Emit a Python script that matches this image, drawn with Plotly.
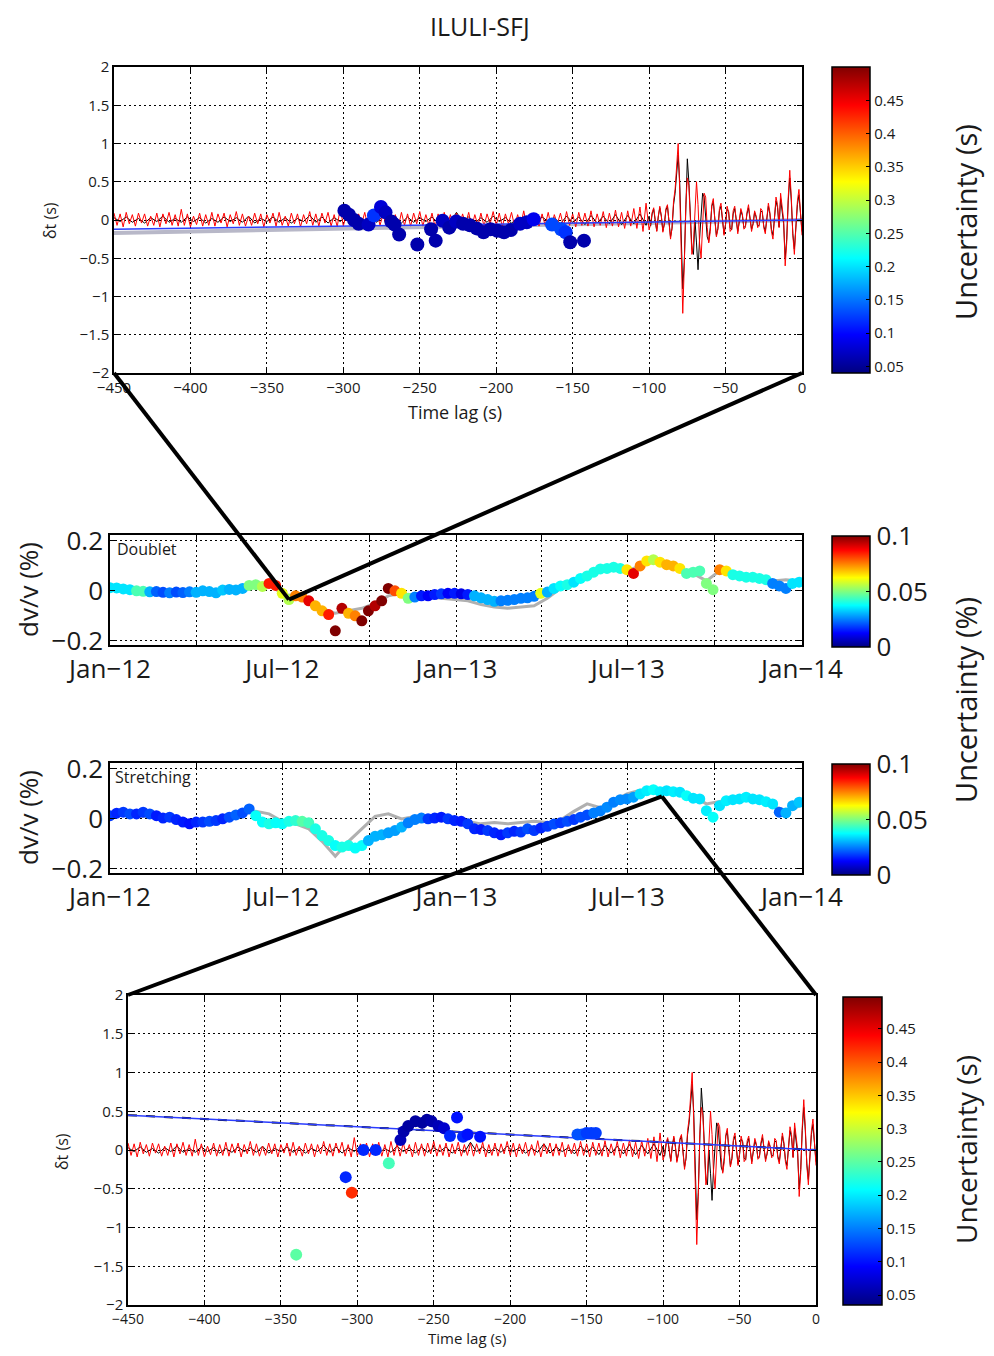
import numpy as np
import pandas as pd
import plotly.graph_objects as go

# page body adds an 8px margin: the figure is sized so it fits the window
OFF = 8
W, H = 994 - 2 * OFF, 1356 - 2 * OFF

# ---------------- DATA ----------------
# correlogram (current = red), lag times
red_t = list(range(-450, -99, 2)) + list(range(-99, 1, 1))
red_v = [
    0.09,-0.07,0.08,-0.09,0.10,-0.05,0.07,-0.08,0.09,-0.04,
    0.08,-0.08,0.05,-0.07,0.09,-0.09,0.08,-0.05,0.10,-0.07,
    0.07,-0.08,0.14,-0.07,0.08,-0.09,0.05,-0.06,0.09,-0.08,
    0.07,-0.07,0.10,-0.08,0.08,-0.04,0.09,-0.09,0.07,-0.05,
    0.11,-0.07,0.08,-0.08,0.05,-0.07,0.09,-0.05,0.08,-0.09,
    0.07,-0.04,0.09,-0.08,0.10,-0.07,0.05,-0.08,0.09,-0.05,
    0.08,-0.09,0.07,-0.05,0.11,-0.07,0.08,-0.08,0.09,-0.04,
    0.10,-0.08,0.07,-0.09,0.16,-0.08,0.08,-0.05,0.09,-0.09,
    0.08,-0.05,0.10,-0.08,0.07,-0.09,0.11,-0.07,0.08,-0.08,
    0.09,-0.05,0.07,-0.09,0.10,-0.07,0.08,-0.08,0.09,-0.05,
    0.11,-0.08,0.07,-0.07,0.09,-0.09,0.08,-0.05,0.10,-0.08,
    0.07,-0.07,0.09,-0.08,0.08,-0.05,0.10,-0.09,0.07,-0.07,
    0.09,-0.08,0.08,-0.05,0.11,-0.07,0.09,-0.09,0.08,-0.05,
    0.10,-0.08,0.07,-0.07,0.12,-0.09,0.08,-0.05,0.09,-0.08,
    0.08,-0.07,0.10,-0.09,0.07,-0.05,0.09,-0.08,0.11,-0.07,
    0.08,-0.09,0.10,-0.07,0.09,-0.08,0.12,-0.09,0.08,-0.07,
    0.11,-0.10,0.09,-0.08,0.13,-0.09,0.10,-0.11,0.12,-0.08,
    0.15,-0.11,0.17,-0.15,0.22,-0.13,
    -0.05,0.10,0.16,-0.02,-0.15,0.05,0.18,0.05,-0.16,-0.05,
    0.15,0.20,-0.05,-0.25,-0.10,0.25,0.40,0.70,1.00,0.40,
    -0.60,-1.22,-0.60,0.20,0.55,0.45,0.00,-0.45,-0.30,0.20,
    0.50,0.20,-0.30,-0.50,-0.10,0.35,0.30,-0.10,-0.30,-0.15,
    0.20,0.28,0.00,-0.22,-0.12,0.15,0.22,-0.05,-0.20,-0.05,
    0.18,0.10,-0.15,-0.12,0.12,0.18,-0.05,-0.18,0.00,0.15,
    0.08,-0.12,-0.10,0.10,0.20,0.00,-0.15,-0.05,0.12,0.05,
    -0.10,-0.08,0.15,0.12,-0.10,-0.18,0.05,0.22,0.10,-0.15,
    -0.25,0.05,0.30,0.20,-0.10,0.35,0.15,0.00,-0.60,-0.30,
    0.30,0.65,0.30,-0.20,-0.45,-0.10,0.25,0.40,0.10,-0.20,
]
# reference correlogram (black)
blk_t = list(range(-450, -101, 4)) + list(range(-100, 1, 1))
blk_v = [
    0.03,-0.02,0.04,-0.03,0.02,-0.04,0.03,-0.02,0.05,-0.03,
    0.02,-0.03,0.04,-0.02,0.03,-0.04,0.02,-0.03,0.04,-0.02,
    0.03,-0.03,0.05,-0.04,0.02,-0.02,0.04,-0.03,0.03,-0.04,
    0.02,-0.02,0.06,-0.03,0.04,-0.04,0.03,-0.02,0.05,-0.03,
    0.04,-0.04,0.02,-0.03,0.05,-0.02,0.03,-0.04,0.04,-0.03,
    0.03,-0.02,0.04,-0.04,0.02,-0.03,0.10,-0.02,0.04,-0.04,
    0.03,-0.03,0.05,-0.02,0.03,-0.04,0.02,-0.03,0.08,-0.04,
    0.04,-0.02,0.03,-0.05,0.05,-0.03,0.04,-0.06,0.06,-0.04,
    0.05,-0.05,0.07,-0.06,0.06,-0.05,0.08,-0.07,
    0.05,-0.08,0.08,0.14,-0.01,-0.14,0.04,0.16,0.05,-0.14,-0.05,
    0.13,0.18,-0.03,-0.22,-0.11,0.20,0.35,0.60,0.85,0.50,
    -0.40,-0.90,-0.55,0.30,0.80,0.50,0.02,-0.38,-0.45,0.00,
    -0.30,-0.65,-0.25,0.10,0.35,0.30,0.05,-0.22,-0.28,-0.10,
    0.18,0.24,0.01,-0.20,-0.11,0.12,0.18,-0.04,-0.18,-0.06,
    0.14,0.11,-0.10,-0.13,0.08,0.15,-0.03,-0.15,-0.02,0.12,
    0.06,-0.10,-0.08,0.08,0.16,0.01,-0.12,-0.05,0.10,0.04,
    -0.08,-0.06,0.12,0.10,-0.08,-0.15,0.04,0.18,0.08,-0.12,
    -0.20,0.04,0.25,0.16,-0.09,0.28,0.12,-0.05,-0.50,-0.25,
    0.25,0.55,0.25,-0.18,-0.38,-0.08,0.20,0.33,0.08,-0.15,
]

# top panel: delay measurements
top_t = [-299.3,-296.3,-293,-290,-283.5,-280,-275.4,-272.4,-268.6,-266.5,-263.5,-251.6,
         -242.6,-239.6,-235.1,-230.7,-226.2,-221.7,-217.2,-212.8,-208.3,-203.8,-199.3,
         -194.9,-190.4,-184.4,-180,-175.5,-163.5,-157.5,-154.6,-151.6,-142.6]
top_dt = [0.12,0.07,0.0,-0.05,-0.06,0.06,0.17,0.10,-0.02,-0.06,-0.19,-0.32,
          -0.12,-0.27,-0.01,-0.10,-0.02,-0.05,-0.07,-0.11,-0.16,-0.12,-0.14,
          -0.16,-0.13,-0.05,-0.03,0.01,-0.06,-0.12,-0.16,-0.29,-0.27]
top_unc = [0.06,0.06,0.06,0.06,0.07,0.12,0.08,0.07,0.06,0.06,0.06,0.06,
           0.06,0.06,0.07,0.06,0.07,0.06,0.06,0.06,0.06,0.06,0.06,
           0.06,0.06,0.07,0.07,0.09,0.13,0.13,0.12,0.06,0.06]
fit_t = [-450, 0]
top_fit = [-0.12, 0.0]
top_fit_err = [-0.17, 0.0]

# bottom panel: delay measurements
bot_t = [-340,-307.6,-303.6,-296,-288,-279.4,-271.8,-269.7,-266.7,-262,-257.6,-254.5,
         -251.5,-247,-243.3,-239.4,-234.8,-230.9,-227.9,-219.7,-156,-153,-150,-147,-144]
bot_dt = [-1.35,-0.35,-0.55,0.0,0.0,-0.17,0.13,0.24,0.31,0.37,0.35,0.39,
          0.37,0.31,0.28,0.18,0.42,0.17,0.2,0.17,0.2,0.2,0.22,0.22,0.22]
bot_unc = [0.25,0.11,0.42,0.11,0.11,0.24,0.06,0.055,0.05,0.05,0.05,0.05,
           0.055,0.06,0.07,0.11,0.10,0.11,0.10,0.10,0.13,0.13,0.12,0.12,0.12]
bot_fit = [0.45, 0.0]

# dv/v time series (weekly)
dates = pd.date_range("2012-01-01", periods=105, freq="7D")
dates_gray = pd.date_range("2012-01-01", periods=53, freq="14D")
dbl_dvv = [
    0.013,0.012,0.008,0.005,0.0,-0.002,-0.004,-0.003,-0.006,-0.008,
    -0.005,-0.007,-0.004,-0.006,0.0,-0.003,-0.008,0.003,0.006,0.004,
    0.010,0.022,0.025,0.018,0.030,0.022,-0.010,-0.035,-0.020,-0.025,
    -0.040,-0.060,-0.080,-0.095,-0.160,-0.070,-0.090,-0.100,-0.120,-0.080,
    -0.060,-0.040,0.010,0.000,-0.010,-0.030,-0.025,-0.020,-0.020,-0.015,
    -0.012,-0.010,-0.010,-0.012,-0.015,-0.020,-0.028,-0.035,-0.042,-0.040,
    -0.038,-0.035,-0.030,-0.028,-0.022,-0.010,-0.005,0.010,0.020,0.025,
    0.035,0.050,0.060,0.075,0.088,0.090,0.095,0.090,0.085,0.070,
    0.100,0.120,0.125,0.115,0.105,0.100,0.090,0.070,0.075,0.080,
    0.030,0.005,0.085,0.080,0.065,0.060,0.055,0.055,0.050,0.045,
    0.030,0.020,0.010,0.030,0.035,
]
dbl_unc = [
    0.035,0.035,0.035,0.035,0.045,0.045,0.030,0.022,0.020,0.025,
    0.020,0.022,0.025,0.030,0.030,0.030,0.030,0.032,0.030,0.030,
    0.030,0.050,0.050,0.055,0.085,0.085,0.060,0.055,0.075,0.075,
    0.090,0.070,0.070,0.085,0.100,0.095,0.070,0.075,0.100,0.100,
    0.095,0.100,0.100,0.080,0.065,0.050,0.025,0.015,0.012,0.015,
    0.018,0.012,0.015,0.010,0.015,0.030,0.030,0.030,0.030,0.025,
    0.025,0.025,0.025,0.025,0.025,0.060,0.030,0.035,0.038,0.040,
    0.035,0.038,0.040,0.040,0.040,0.040,0.040,0.040,0.065,0.090,
    0.075,0.065,0.055,0.065,0.070,0.070,0.065,0.045,0.045,0.045,
    0.050,0.050,0.075,0.065,0.040,0.040,0.040,0.040,0.040,0.040,
    0.025,0.025,0.025,0.035,0.035,
]
dbl_gray = [
    0.012,0.006,0.0,-0.005,-0.006,-0.006,-0.004,-0.004,-0.005,0.005,
    0.010,0.025,0.030,-0.015,-0.020,-0.030,-0.070,-0.090,-0.080,-0.070,
    -0.050,-0.020,-0.010,-0.020,-0.025,-0.030,-0.035,-0.040,-0.055,-0.065,
    -0.070,-0.065,-0.060,-0.030,0.010,0.030,0.060,0.080,0.090,0.080,
    0.100,0.120,0.100,0.090,0.070,0.040,0.080,0.070,0.060,0.060,
    0.040,0.045,0.040,
]
str_dvv = [
    0.013,0.023,0.027,0.020,0.020,0.027,0.020,0.013,0.003,0.007,
    -0.003,-0.013,-0.020,-0.013,-0.013,-0.010,-0.007,0.000,0.007,0.016,
    0.024,0.040,0.013,-0.013,-0.020,-0.016,-0.020,-0.010,-0.007,-0.010,
    -0.016,-0.040,-0.067,-0.087,-0.107,-0.113,-0.107,-0.117,-0.107,-0.087,
    -0.070,-0.064,-0.056,-0.047,-0.033,-0.016,-0.003,0.003,0.000,0.003,
    0.007,0.000,-0.007,-0.010,-0.020,-0.040,-0.043,-0.047,-0.056,-0.064,
    -0.056,-0.050,-0.053,-0.040,-0.047,-0.037,-0.030,-0.021,-0.016,-0.010,
    -0.003,0.007,0.016,0.024,0.032,0.047,0.067,0.077,0.080,0.087,
    0.100,0.113,0.117,0.109,0.113,0.109,0.107,0.093,0.083,0.080,
    0.033,0.007,0.053,0.073,0.077,0.080,0.087,0.080,0.077,0.069,
    0.060,0.027,0.024,0.053,0.067,
]
str_unc = [
    0.018,0.016,0.018,0.020,0.016,0.018,0.020,0.015,0.016,0.018,
    0.016,0.015,0.014,0.016,0.018,0.020,0.018,0.016,0.020,0.022,
    0.020,0.022,0.038,0.038,0.040,0.038,0.038,0.040,0.042,0.046,
    0.044,0.040,0.040,0.040,0.038,0.040,0.040,0.038,0.038,0.030,
    0.030,0.030,0.028,0.028,0.030,0.025,0.025,0.025,0.018,0.016,
    0.015,0.018,0.016,0.015,0.018,0.016,0.015,0.018,0.016,0.015,
    0.018,0.016,0.018,0.020,0.018,0.016,0.018,0.020,0.018,0.020,
    0.018,0.020,0.020,0.025,0.025,0.026,0.025,0.026,0.026,0.028,
    0.035,0.036,0.038,0.036,0.035,0.036,0.035,0.038,0.035,0.035,
    0.036,0.038,0.035,0.036,0.035,0.035,0.036,0.035,0.035,0.036,
    0.035,0.022,0.030,0.030,0.032,
]
str_gray = [
    0.010,0.020,0.010,0.010,-0.005,-0.010,-0.015,-0.010,-0.005,0.005,
    0.020,0.030,0.020,-0.010,-0.020,-0.040,-0.090,-0.150,-0.090,-0.040,
    0.010,0.020,0.000,0.010,0.010,0.015,0.005,-0.010,-0.020,-0.015,
    -0.020,-0.015,-0.010,-0.015,-0.005,0.030,0.060,0.045,0.070,0.100,
    0.115,0.120,0.115,0.100,0.090,0.060,0.070,0.080,0.080,0.070,
    0.050,0.035,0.050,
]
# points linked to the zoomed correlograms
dbl_link_date, dbl_link_val = "2012-07-08", -0.035
str_link_date, str_link_val = "2013-08-06", 0.09

# ---------------- LAYOUT HELPERS ----------------
def fx(px):
    return (px - OFF) / W

def fy(py):
    return 1 - (py - OFF) / H

jet = [[0.0, "rgb(0,0,128)"], [0.125, "rgb(0,0,255)"], [0.375, "rgb(0,255,255)"],
       [0.625, "rgb(255,255,0)"], [0.875, "rgb(255,0,0)"], [1.0, "rgb(128,0,0)"]]

FONT = "Open Sans"
TXT = "#1a1a1a"
dom = {
    1: ([fx(114), fx(802)], [fy(373), fy(67)]),
    2: ([fx(110), fx(802)], [fy(645), fy(535)]),
    3: ([fx(110), fx(802)], [fy(873), fy(763)]),
    4: ([fx(128), fx(816)], [fy(1305), fy(995)]),
}
lag_range = [-450, 0]
dt_range = [-2, 2]
dvv_range = [-0.217, 0.224]
date_range = ["2012-01-01", "2014-01-01"]

fig = go.Figure()

def add_corr(xa, ya):
    fig.add_trace(go.Scatter(x=blk_t, y=blk_v, mode="lines", line=dict(color="black", width=1),
                             xaxis=xa, yaxis=ya, showlegend=False, hoverinfo="skip"))
    fig.add_trace(go.Scatter(x=red_t, y=red_v, mode="lines", line=dict(color="red", width=1),
                             xaxis=xa, yaxis=ya, showlegend=False, hoverinfo="skip"))

# top panel
fig.add_trace(go.Scatter(x=fit_t, y=top_fit_err, mode="lines", line=dict(color="#b8b8c8", width=4),
                         xaxis="x", yaxis="y", showlegend=False))
add_corr("x", "y")
fig.add_trace(go.Scatter(x=fit_t, y=top_fit, mode="lines", line=dict(color="#2a3cff", width=1.5),
                         xaxis="x", yaxis="y", showlegend=False))
fig.add_trace(go.Scatter(x=top_t, y=top_dt, mode="markers",
                         marker=dict(size=14, color=top_unc, coloraxis="coloraxis", line=dict(width=0)),
                         xaxis="x", yaxis="y", showlegend=False))

# doublet
fig.add_trace(go.Scatter(x=dates_gray, y=dbl_gray, mode="lines", line=dict(color="#b0b0b0", width=3),
                         xaxis="x2", yaxis="y2", showlegend=False))
fig.add_trace(go.Scatter(x=dates, y=dbl_dvv, mode="markers",
                         marker=dict(size=11, color=dbl_unc, coloraxis="coloraxis2", line=dict(width=0)),
                         xaxis="x2", yaxis="y2", showlegend=False))
# stretching
fig.add_trace(go.Scatter(x=dates_gray, y=str_gray, mode="lines", line=dict(color="#b0b0b0", width=3),
                         xaxis="x3", yaxis="y3", showlegend=False))
fig.add_trace(go.Scatter(x=dates, y=str_dvv, mode="markers",
                         marker=dict(size=11, color=str_unc, coloraxis="coloraxis3", line=dict(width=0)),
                         xaxis="x3", yaxis="y3", showlegend=False))

# bottom panel
add_corr("x4", "y4")
fig.add_trace(go.Scatter(x=fit_t, y=bot_fit, mode="lines", line=dict(color="black", width=2, dash="dash"),
                         xaxis="x4", yaxis="y4", showlegend=False))
fig.add_trace(go.Scatter(x=fit_t, y=bot_fit, mode="lines", line=dict(color="#2a3cff", width=1.5),
                         xaxis="x4", yaxis="y4", showlegend=False))
fig.add_trace(go.Scatter(x=bot_t, y=bot_dt, mode="markers",
                         marker=dict(size=12, color=bot_unc, coloraxis="coloraxis4", line=dict(width=0)),
                         xaxis="x4", yaxis="y4", showlegend=False))

# axes
def base_axis(d, **kw):
    a = dict(domain=d, showline=True, linecolor="black", linewidth=1.5, mirror="ticks",
             ticks="inside", ticklen=5, tickcolor="black", showgrid=True, gridcolor="black",
             gridwidth=1, griddash="2px,3px", zeroline=False, automargin=False,
             tickfont=dict(family=FONT, size=15, color=TXT))
    a.update(kw)
    return a

lag_ticks = list(range(-450, 1, 50))
lag_text = [("\u2212" + str(-v)) if v < 0 else str(v) for v in lag_ticks]
dt_ticks = [-2, -1.5, -1, -0.5, 0, 0.5, 1, 1.5, 2]
dt_text = ["\u22122", "\u22121.5", "\u22121", "\u22120.5", "0", "0.5", "1", "1.5", "2"]
date_ticks = ["2012-01-01", "2012-04-01", "2012-07-01", "2012-10-01", "2013-01-01",
              "2013-04-01", "2013-07-01", "2013-10-01", "2014-01-01"]
date_text = ["Jan\u221212", "", "Jul\u221212", "", "Jan\u221213", "", "Jul\u221213", "", "Jan\u221214"]
dvv_ticks = [-0.2, 0, 0.2]
dvv_text = ["\u22120.2", "0", "0.2"]

big = dict(family=FONT, size=26, color=TXT)
fig.update_layout(
    xaxis=base_axis(dom[1][0], anchor="y", range=lag_range, tickvals=lag_ticks, ticktext=lag_text),
    yaxis=base_axis(dom[1][1], anchor="x", range=dt_range, tickvals=dt_ticks, ticktext=dt_text),
    xaxis2=base_axis(dom[2][0], anchor="y2", type="date", range=date_range, tickvals=date_ticks,
                     ticktext=date_text, tickfont=big),
    yaxis2=base_axis(dom[2][1], anchor="x2", range=dvv_range, tickvals=dvv_ticks, ticktext=dvv_text, tickfont=big),
    xaxis3=base_axis(dom[3][0], anchor="y3", type="date", range=date_range, tickvals=date_ticks,
                     ticktext=date_text, tickfont=big),
    yaxis3=base_axis(dom[3][1], anchor="x3", range=dvv_range, tickvals=dvv_ticks, ticktext=dvv_text, tickfont=big),
    xaxis4=base_axis(dom[4][0], anchor="y4", range=lag_range, tickvals=lag_ticks, ticktext=lag_text,
                     tickfont=dict(family=FONT, size=14, color=TXT)),
    yaxis4=base_axis(dom[4][1], anchor="x4", range=dt_range, tickvals=dt_ticks, ticktext=dt_text),
)

def cbar(y0px, y1px, x0px, thick, ticks, text, size):
    return dict(x=fx(x0px), xanchor="left", y=(fy(y0px) + fy(y1px)) / 2, yanchor="middle",
                len=(y1px - y0px) / H, lenmode="fraction", thickness=thick, thicknessmode="pixels",
                xpad=0, ypad=0, outlinewidth=1.5, outlinecolor="black", ticks="inside", ticklen=4,
                tickcolor="black", tickvals=ticks, ticktext=text,
                tickfont=dict(family=FONT, size=size, color=TXT))

s_ticks = [0.05, 0.1, 0.15, 0.2, 0.25, 0.3, 0.35, 0.4, 0.45]
s_text = ["0.05", "0.1", "0.15", "0.2", "0.25", "0.3", "0.35", "0.4", "0.45"]
p_ticks = [0, 0.05, 0.1]
p_text = ["0", "0.05", "0.1"]
fig.update_layout(
    coloraxis=dict(colorscale=jet, cmin=0.04, cmax=0.5, colorbar=cbar(67, 373, 832, 38, s_ticks, s_text, 15)),
    coloraxis2=dict(colorscale=jet, cmin=0, cmax=0.1, colorbar=cbar(536, 647, 832, 38, p_ticks, p_text, 26)),
    coloraxis3=dict(colorscale=jet, cmin=0, cmax=0.1, colorbar=cbar(764, 875, 832, 38, p_ticks, p_text, 26)),
    coloraxis4=dict(colorscale=jet, cmin=0.035, cmax=0.498, colorbar=cbar(997, 1305, 843, 39, s_ticks, s_text, 15)),
)

# connector lines (computed from axis scales)
def to_px(d, r, v):
    return d[0] + (v - r[0]) / (r[1] - r[0]) * (d[1] - d[0])

def tms(s):
    return pd.Timestamp(s).value / 1e6

dr_ms = [tms(date_range[0]), tms(date_range[1])]
p_dbl = (to_px(dom[2][0], dr_ms, tms(dbl_link_date)), to_px(dom[2][1], dvv_range, dbl_link_val))
p_str = (to_px(dom[3][0], dr_ms, tms(str_link_date)), to_px(dom[3][1], dvv_range, str_link_val))
top_bl = (to_px(dom[1][0], lag_range, lag_range[0]), to_px(dom[1][1], dt_range, dt_range[0]))
top_br = (to_px(dom[1][0], lag_range, lag_range[1]), to_px(dom[1][1], dt_range, dt_range[0]))
bot_tl = (to_px(dom[4][0], lag_range, lag_range[0]), to_px(dom[4][1], dt_range, dt_range[1]))
bot_tr = (to_px(dom[4][0], lag_range, lag_range[1]), to_px(dom[4][1], dt_range, dt_range[1]))

shapes = []
for a, b in [(top_bl, p_dbl), (p_dbl, top_br), (bot_tl, p_str), (p_str, bot_tr)]:
    shapes.append(dict(type="line", xref="paper", yref="paper", x0=a[0], y0=a[1], x1=b[0], y1=b[1],
                       line=dict(color="black", width=4), layer="above"))
fig.update_layout(shapes=shapes)

def ann(text, xpx, ypx, size, angle=0, xanchor="center"):
    return dict(text=text, x=fx(xpx), y=fy(ypx), xref="paper", yref="paper", showarrow=False,
                textangle=angle, xanchor=xanchor, yanchor="middle", borderpad=0,
                font=dict(family=FONT, size=size, color=TXT))

fig.update_layout(annotations=[
    ann("ILULI-SFJ", 480, 26, 25),
    ann("Time lag (s)", 455, 412, 18),
    ann("Time lag (s)", 467, 1338, 15),
    ann("\u03b4t (s)", 50, 221, 16, -90),
    ann("\u03b4t (s)", 62, 1152, 16, -90),
    ann("dv/v (%)", 28, 590, 26, -90),
    ann("dv/v (%)", 28, 818, 26, -90),
    ann("Doublet", 116, 549, 16, 0, "left"),
    ann("Stretching", 114, 777, 16, 0, "left"),
    ann("Uncertainty (s)", 965, 222, 29, -90),
    ann("Uncertainty (%)", 965, 700, 29, -90),
    ann("Uncertainty (s)", 966, 1150, 28, -90),
])

fig.update_layout(width=W, height=H, margin=dict(l=0, r=0, t=0, b=0, autoexpand=False),
                  paper_bgcolor="white", plot_bgcolor="white", showlegend=False)
fig.write_html("out.html")
